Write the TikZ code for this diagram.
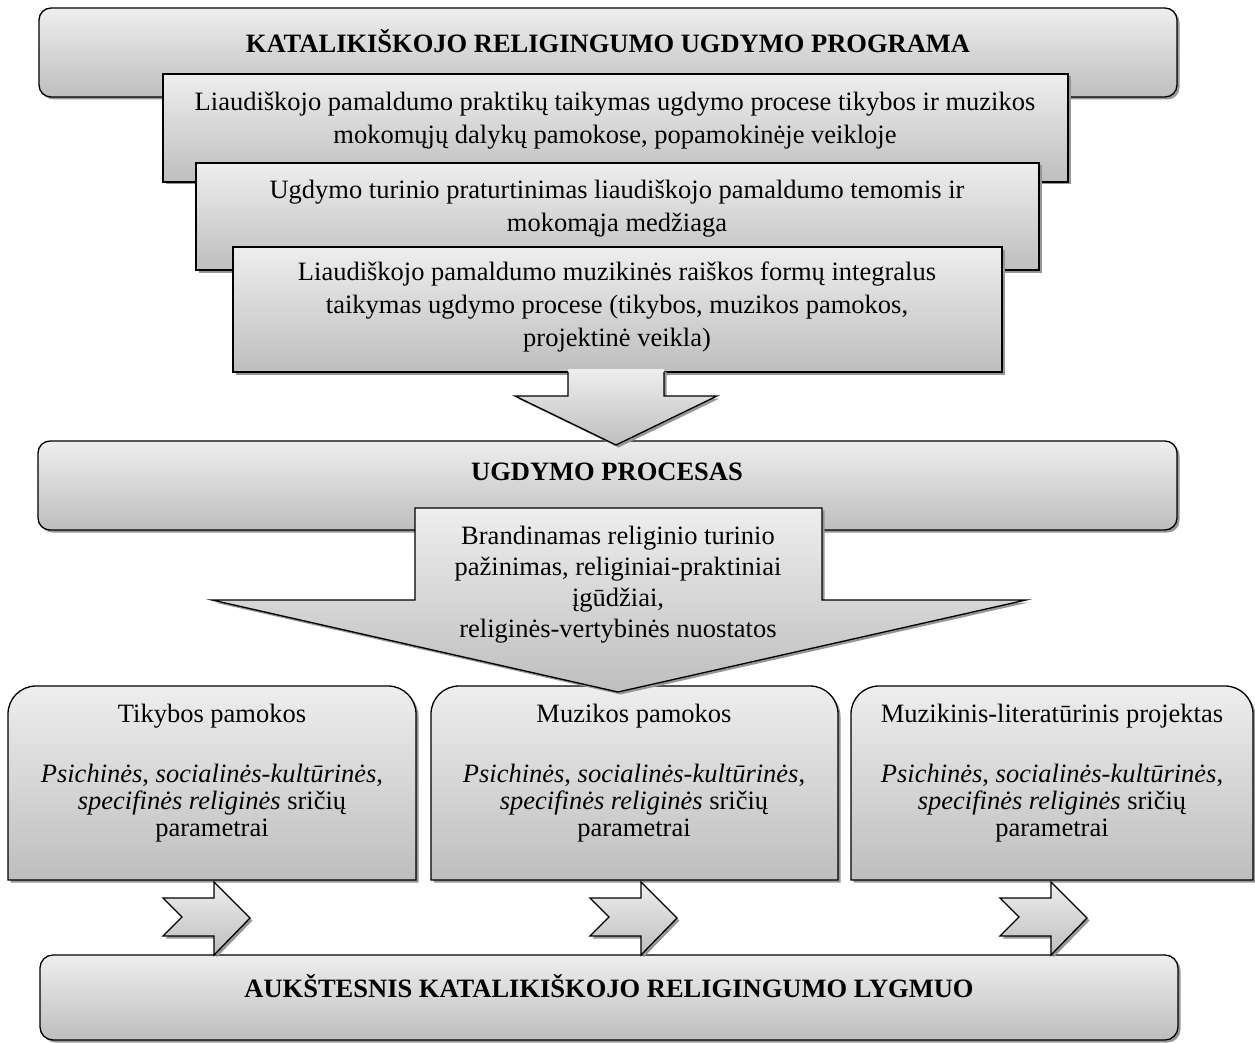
\documentclass[tikz,border=0pt]{standalone}
\usepackage{fontspec}
\setmainfont{Liberation Serif}
\usetikzlibrary{shadows}
\definecolor{shtop}{RGB}{238,238,238}
\definecolor{shbot}{RGB}{190,190,190}
\definecolor{shadowgray}{RGB}{150,150,150}
\tikzset{
  blk/.style={draw=black, line width=1.3, top color=shtop, bottom color=shbot,
    drop shadow={shadow xshift=2.5pt, shadow yshift=-2.5pt, fill=shadowgray, opacity=1}},
  blkfill/.style={top color=shtop, bottom color=shbot,
    drop shadow={shadow xshift=2.5pt, shadow yshift=-2.5pt, fill=shadowgray, opacity=1}},
  edge/.style={draw=black, line width=1.3},
  txt/.style={font=\fontsize{26.5}{33}\selectfont, align=center, inner sep=0pt},
  txtb/.style={font=\fontsize{26.5}{33}\selectfont\bfseries, align=center, inner sep=0pt},
  txts/.style={font=\fontsize{26.5}{27}\selectfont, align=center, inner sep=0pt},
  txta/.style={font=\fontsize{26.5}{31}\selectfont, align=center, inner sep=0pt}
}
\begin{document}
\begin{tikzpicture}[x=1pt,y=-1pt]
\useasboundingbox[fill=white] (0,0) rectangle (1255,1043);

% top box
\path[blk, rounded corners=12] (39,8) rectangle (1177,97);
\node[txtb] (prog) at (608,41) {KATALIKIŠKOJO RELIGINGUMO UGDYMO PROGRAMA};

% stacked boxes
\path[blk] (163,74) rectangle (1068,182);
\node[txt] (b2) at (615,121) {Liaudiškojo pamaldumo praktikų taikymas ugdymo procese tikybos ir muzikos\\ mokomųjų dalykų pamokose, popamokinėje veikloje};

\path[blk] (196,163) rectangle (1039,270);
\node[txt] (b3) at (617,209) {Ugdymo turinio praturtinimas liaudiškojo pamaldumo temomis ir\\ mokomąja medžiaga};

\path[blk] (233,247) rectangle (1002,372);
\node[txt] (b4) at (617,307) {Liaudiškojo pamaldumo muzikinės raiškos formų integralus\\ taikymas ugdymo procese (tikybos, muzikos pamokos,\\ projektinė veikla)};

% process box
\path[blk, rounded corners=12] (38,441) rectangle (1177,530);
\node[txtb] (proc) at (607,472) {UGDYMO PROCESAS};

% arrow 1
\path[blkfill] (568,369) -- (568,396) -- (515,396) -- (616,445) -- (717,396) -- (664,396) -- (664,369) -- cycle;
\draw[edge, line join=miter] (568,372) -- (568,396) -- (515,396) -- (616,445) -- (717,396) -- (664,396) -- (664,372);

% bottom boxes
\path[blk] (8,880) -- (8,714) arc[start angle=180, end angle=270, radius=28] -- (388,686) arc[start angle=270, end angle=360, radius=28] -- (416,880) -- cycle;
\node[txts] (tik) at (212,773) {Tikybos pamokos\\[33pt] \textit{Psichinės}, \textit{socialinės-kultūrinės},\\ \textit{specifinės religinės} sričių\\ parametrai};

\path[blk] (431,880) -- (431,714) arc[start angle=180, end angle=270, radius=28] -- (810,686) arc[start angle=270, end angle=360, radius=28] -- (838,880) -- cycle;
\node[txts] (muz) at (634,773) {Muzikos pamokos\\[33pt] \textit{Psichinės}, \textit{socialinės-kultūrinės},\\ \textit{specifinės religinės} sričių\\ parametrai};

\path[blk] (851,880) -- (851,714) arc[start angle=180, end angle=270, radius=28] -- (1225,686) arc[start angle=270, end angle=360, radius=28] -- (1253,880) -- cycle;
\node[txts] (proj) at (1052,773) {Muzikinis-literatūrinis projektas\\[33pt] \textit{Psichinės}, \textit{socialinės-kultūrinės},\\ \textit{specifinės religinės} sričių\\ parametrai};

% arrow 2 with text
\path[blk, line join=miter] (415,508) -- (822,508) -- (822,600) -- (1026,600) -- (618,692) -- (212,600) -- (415,600) -- cycle;
\node[txta] (brand) at (618,585) {Brandinamas religinio turinio\\ pažinimas, religiniai-praktiniai\\ įgūdžiai,\\ religinės-vertybinės nuostatos};

% result box
\path[blk, rounded corners=13] (40,955) rectangle (1178,1040);
\node[txtb] (lyg) at (609,986) {AUKŠTESNIS KATALIKIŠKOJO RELIGINGUMO LYGMUO};

% small arrows
\foreach \dx in {0, 427, 837}{
  \path[blk, line join=miter, xshift=\dx pt] (163,898) -- (214,898) -- (214,882) -- (250,918) -- (214,955) -- (214,936) -- (163,936) -- (182,917) -- cycle;
}
\end{tikzpicture}
\end{document}
